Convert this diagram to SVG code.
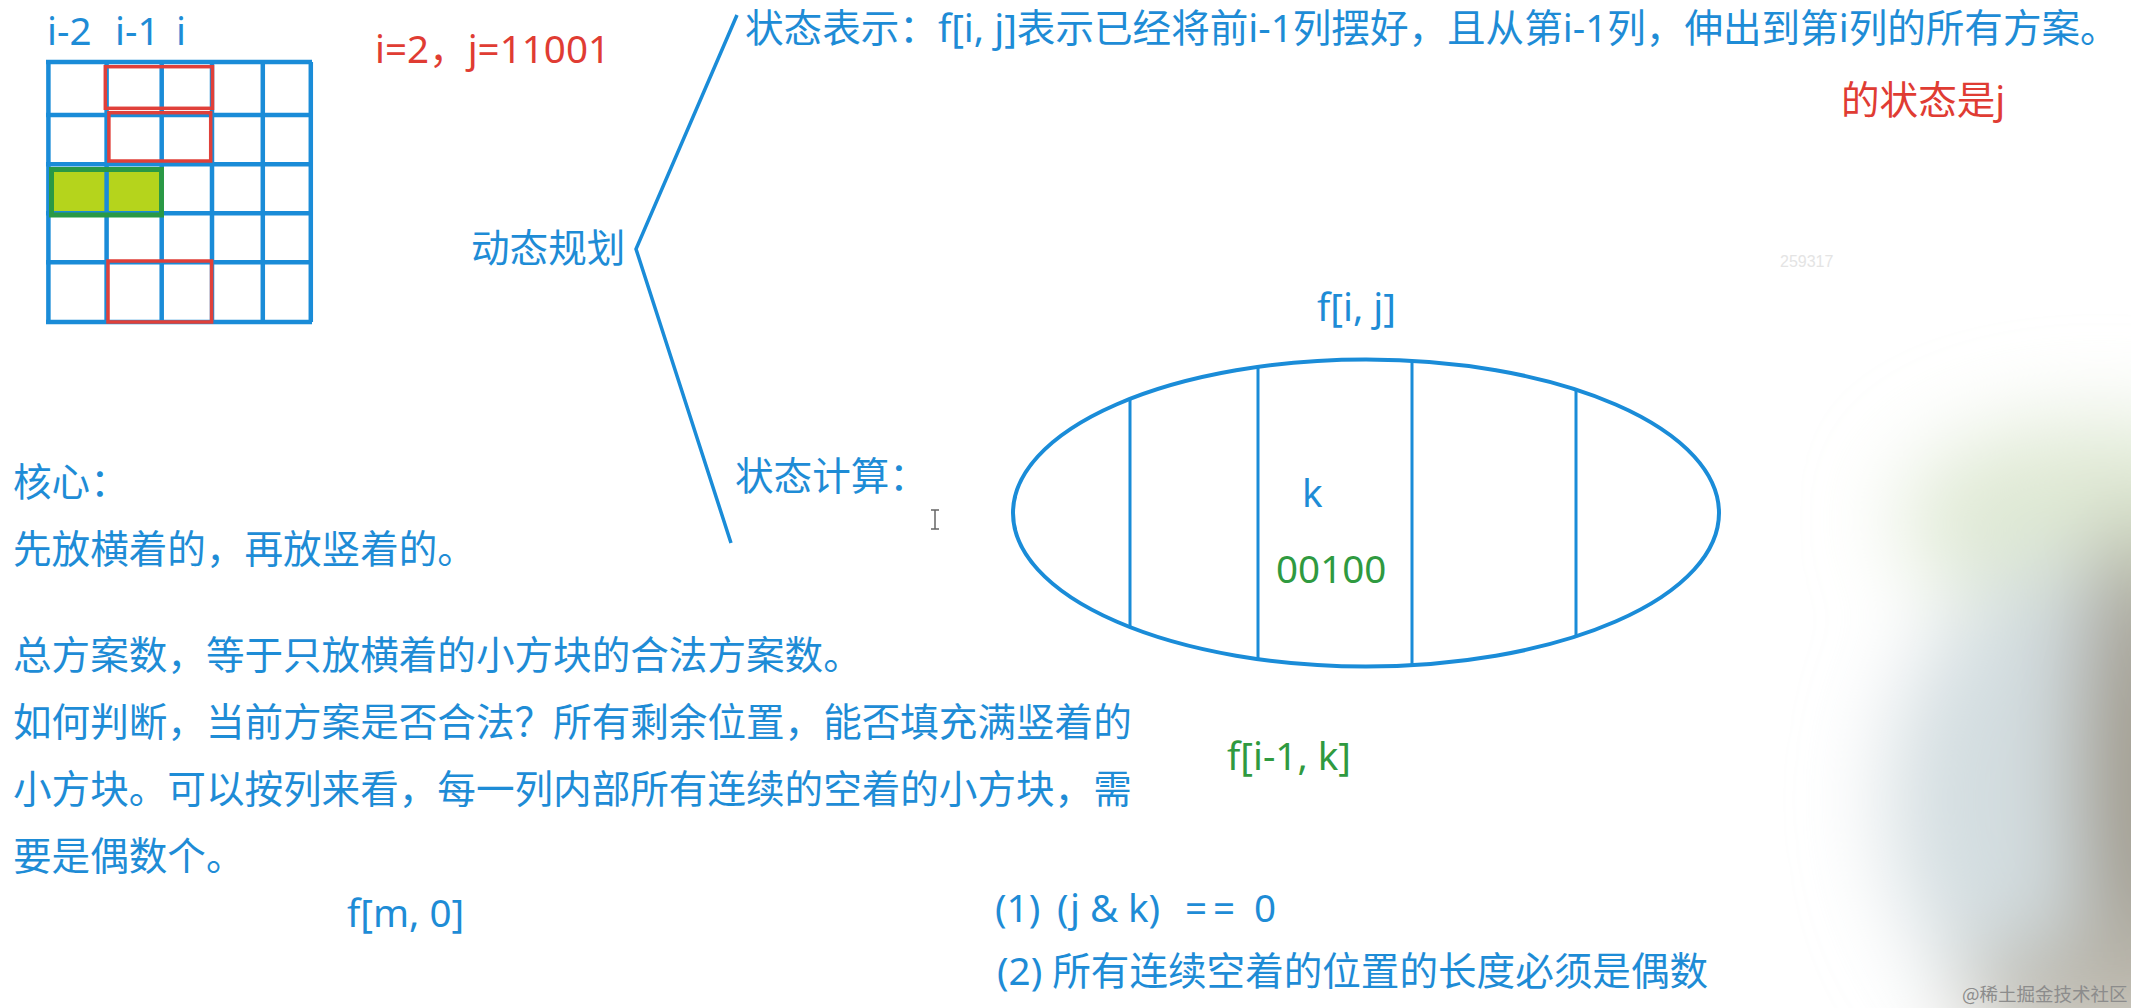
<svg xmlns="http://www.w3.org/2000/svg" width="2131" height="1008" viewBox="0 0 2131 1008">
<style>
  .t { font-family: "Noto Sans", "Noto Sans CJK SC", sans-serif; font-size: 38.6px; }
  .blue { fill: #1e8cd6; }
  .red { fill: #e03c33; }
  .green { fill: #2f9a40; }
  .bl { stroke: #1a8cd8; fill: none; }
  .grid { stroke: #1a8cd8; stroke-width: 4.5; fill: none; }
  .redbox { stroke: #e0403a; stroke-width: 3.5; fill: none; }
  .wm { font-family: "Noto Sans CJK SC", sans-serif; }
</style>
<defs>
  <filter id="blur" x="-50%" y="-50%" width="200%" height="200%">
    <feGaussianBlur stdDeviation="45"/>
  </filter>
</defs>
<rect width="2131" height="1008" fill="#ffffff"/>

<!-- soft background blur in the lower right corner -->
<g id="corner-blur" filter="url(#blur)">
  <ellipse cx="2100" cy="520" rx="200" ry="100" fill="#dfe9d4"/>
  <ellipse cx="2080" cy="800" rx="190" ry="240" fill="#d3dde0"/>
  <ellipse cx="2140" cy="780" rx="60" ry="260" fill="#9c9484"/>
  <ellipse cx="2110" cy="995" rx="150" ry="60" fill="#bab6aa"/>
</g>

<!-- grid figure -->
<g id="grid">
  <rect x="51.5" y="169.5" width="110" height="45.5" fill="#b5d41c"/>
  <path class="grid" d="M48.4,62 V322 M106.6,62 V322 M161.7,62 V322 M212,62 V322 M262.8,62 V322 M310.8,62 V322 M46,62 H312 M46,115 H312 M46,164.3 H312 M46,213.3 H312 M46,262.3 H312 M46,322 H312"/>
  <rect x="51.5" y="169.5" width="110" height="45.5" fill="none" stroke="#2a9945" stroke-width="5"/>
  <rect class="redbox" x="105.3" y="66.7" width="107.2" height="41.6"/>
  <rect class="redbox" x="108.9" y="112.7" width="101.8" height="48.3"/>
  <rect class="redbox" x="108" y="261" width="103.6" height="61"/>
</g>
<g id="grid-labels">
  <text class="t blue"><tspan x="47" y="45">i-2</tspan><tspan x="115" y="45">i-1</tspan><tspan x="176" y="45">i</tspan></text>
  <text class="t red" x="375" y="63">i=2，j=11001</text>
</g>

<!-- connectors (bracket) -->
<g id="connectors">
  <path class="bl" stroke-width="3.5" stroke-linejoin="miter" d="M737,15 L636,249 L731,543"/>
</g>

<g id="node-dp">
  <text class="t blue" x="471" y="262">动态规划</text>
</g>
<g id="node-state-repr">
  <text class="t blue" x="745" y="42">状态表示：f[i, j]表示已经将前i-1列摆好，且从第i-1列，伸出到第i列的所有方案。</text>
  <text class="t red" x="1841" y="114">的状态是j</text>
</g>
<g id="node-state-calc">
  <text class="t blue" x="735" y="490">状态计算：</text>
</g>

<!-- ellipse set diagram -->
<g id="node-set">
  <text class="t blue" x="1317" y="321">f[i, j]</text>
  <ellipse class="bl" stroke-width="4" cx="1366" cy="513" rx="353" ry="153.5"/>
  <path class="bl" stroke-width="3" d="M1130,398.8 V627.2 M1258,366.9 V659.1 M1412,360.8 V665.2 M1576,389.6 V636.4"/>
  <text class="t blue" x="1302" y="507">k</text>
  <text class="t green" x="1276" y="583">00100</text>
  <text class="t green" x="1227" y="770">f[i-1, k]</text>
</g>

<g id="node-core">
  <text class="t blue" x="13" y="496">核心：</text>
  <text class="t blue" x="13" y="563">先放横着的，再放竖着的。</text>
  <text class="t blue" x="13" y="669">总方案数，等于只放横着的小方块的合法方案数。</text>
  <text class="t blue" x="13" y="736">如何判断，当前方案是否合法？所有剩余位置，能否填充满竖着的</text>
  <text class="t blue" x="13" y="803">小方块。可以按列来看，每一列内部所有连续的空着的小方块，需</text>
  <text class="t blue" x="13" y="870">要是偶数个。</text>
  <text class="t blue" x="347" y="927">f[m, 0]</text>
</g>

<g id="node-conditions">
  <text class="t blue"><tspan x="995" y="922">(1)</tspan><tspan x="1057" y="922">(j</tspan><tspan x="1090" y="922">&amp;</tspan><tspan x="1128" y="922">k)</tspan><tspan x="1185" y="922">=</tspan><tspan x="1213" y="922">=</tspan><tspan x="1254" y="922">0</tspan></text>
  <text class="t blue" x="997" y="985">(2) 所有连续空着的位置的长度必须是偶数</text>
</g>

<!-- text cursor -->
<path d="M931,510 H939 M935,510 V529 M931,529 H939" stroke="#666" stroke-width="1.5" fill="none"/>

<text x="1780" y="267" font-family="Liberation Sans, sans-serif" font-size="16" fill="#e4e4e4">259317</text>
<text class="wm" x="1962" y="1001" font-size="18.5" fill="#8c8c8c">@稀土掘金技术社区</text>
</svg>
